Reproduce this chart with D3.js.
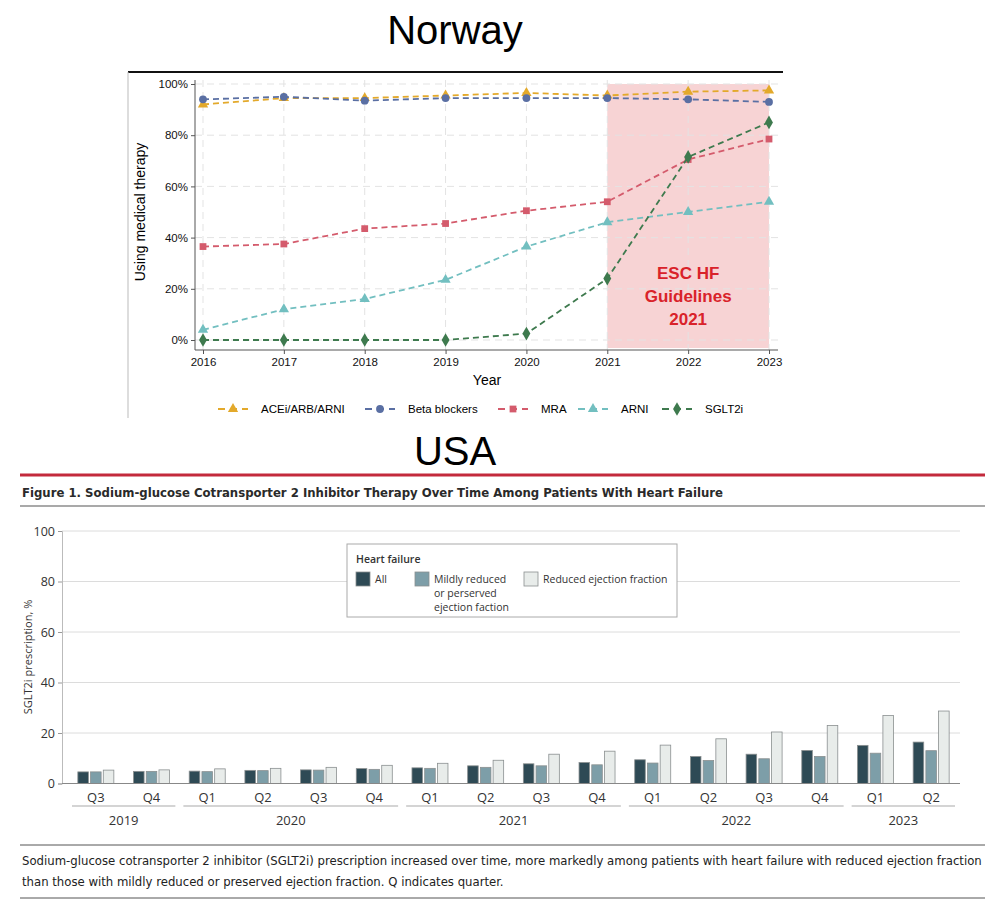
<!DOCTYPE html>
<html>
<head>
<meta charset="utf-8">
<script src="https://cdn.jsdelivr.net/npm/d3@7"></script>
<style>
  body { margin: 0; background: #fff; }
  svg { display: block; }
</style>
</head>
<body>
<svg id="chart" width="1000" height="903"></svg>
<script>
// ---- Norway data ----
const years = [2016, 2017, 2018, 2019, 2020, 2021, 2022, 2023]
const acei = [92, 94.5, 94.5, 95.5, 96.5, 95.5, 97, 97.5]
const betaBlockers = [94, 95, 93.5, 94.5, 94.5, 94.5, 94, 93]
const mra = [36.5, 37.5, 43.5, 45.5, 50.5, 54, 70.5, 78.5]
const arni = [4, 12, 16, 23.5, 36.5, 46, 50, 54]
const sglt2i = [0, 0, 0, 0, 2.5, 24, 71.5, 85]
const pctTicks = [0, 20, 40, 60, 80, 100]

// ---- USA data ----
const quarters = ["Q3","Q4","Q1","Q2","Q3","Q4","Q1","Q2","Q3","Q4","Q1","Q2","Q3","Q4","Q1","Q2"]
const quarterYears = [2019,2019,2020,2020,2020,2020,2021,2021,2021,2021,2022,2022,2022,2022,2023,2023]
const hfAll = [4.6, 4.8, 4.9, 5.2, 5.4, 5.9, 6.2, 7.0, 7.8, 8.3, 9.4, 10.7, 11.6, 13.1, 15.1, 16.4]
const hfMild = [4.6, 4.8, 4.7, 5.1, 5.3, 5.6, 6.0, 6.4, 7.0, 7.4, 8.1, 9.1, 9.8, 10.7, 12.0, 13.0]
const hfReduced = [5.3, 5.4, 5.8, 6.0, 6.4, 7.2, 8.0, 9.2, 11.6, 12.8, 15.2, 17.7, 20.4, 23.0, 26.9, 28.7]
const barTicks = [0, 20, 40, 60, 80, 100]

const svg = d3.select("#chart")
const helv = "'Liberation Sans', Arial, sans-serif"
const narrow = "'Liberation Sans Narrow', 'DejaVu Sans Condensed', 'Liberation Sans', sans-serif"

// ================= Norway =================
svg.append("text").attr("x", 455).attr("y", 44).attr("text-anchor", "middle")
    .style("font-family", helv).style("font-size", "40px").text("Norway")

// image frame bits
svg.append("line").attr("x1", 128).attr("x2", 783).attr("y1", 72).attr("y2", 72)
    .attr("stroke", "#111").attr("stroke-width", 2)
svg.append("line").attr("x1", 128).attr("x2", 128).attr("y1", 72).attr("y2", 418)
    .attr("stroke", "#bbb").attr("stroke-width", 1)

const x1 = d3.scalePoint().domain(years).range([203, 769])
const y1 = d3.scaleLinear().domain([0, 100]).range([340, 84])

const topG = svg.append("g")

// guideline shading
topG.append("rect")
    .attr("x", x1(2021)).attr("y", y1(100))
    .attr("width", x1(2023) - x1(2021)).attr("height", 348 - y1(100))
    .attr("fill", "#f7d3d4")

// grid
topG.selectAll(".hg").data(pctTicks).enter().append("line")
    .attr("x1", 195).attr("x2", 778)
    .attr("y1", d => y1(d)).attr("y2", d => y1(d))
    .attr("stroke", "#e3e3e3").attr("stroke-dasharray", "7,5")
topG.selectAll(".vg").data(years).enter().append("line")
    .attr("x1", d => x1(d)).attr("x2", d => x1(d))
    .attr("y1", 80).attr("y2", 350)
    .attr("stroke", "#e3e3e3").attr("stroke-dasharray", "7,5")

// annotation
const ann = topG.append("text").attr("text-anchor", "middle")
    .style("font-family", helv).style("font-size", "17px").style("font-weight", "bold")
    .attr("fill", "#d9222a")
;["ESC HF", "Guidelines", "2021"].forEach((t, i) => {
    ann.append("tspan").attr("x", (x1(2021) + x1(2023)) / 2).attr("y", 279 + i * 23).text(t)
})

// axes
const xAxis1 = topG.append("g").attr("transform", "translate(0,350)")
    .call(d3.axisBottom(x1).tickSize(4).tickPadding(4))
xAxis1.select(".domain").attr("d", "M195,0H778")
const yAxis1 = topG.append("g").attr("transform", "translate(195,0)")
    .call(d3.axisLeft(y1).tickValues(pctTicks).tickFormat(d => d + "%").tickSize(4).tickPadding(3))
yAxis1.select(".domain").attr("d", "M0,80V350")
topG.selectAll(".tick text").style("font-family", helv).style("font-size", "11.5px").attr("fill", "#111")
topG.selectAll(".domain, .tick line").attr("stroke", "#555")

topG.append("text").attr("x", 487).attr("y", 385).attr("text-anchor", "middle")
    .style("font-family", helv).style("font-size", "14px").text("Year")
topG.append("text").attr("transform", "translate(145,212) rotate(-90)").attr("text-anchor", "middle")
    .style("font-family", helv).style("font-size", "14px").text("Using medical therapy")

const seriesDefs = [
    {name: "ACEi/ARB/ARNI", values: acei, color: "#e3a92b", sym: d3.symbolTriangle, size: 46, lx: 218},
    {name: "Beta blockers", values: betaBlockers, color: "#5a6fa3", sym: d3.symbolCircle, size: 48, lx: 365},
    {name: "MRA", values: mra, color: "#d45b6c", sym: d3.symbolSquare, size: 46, lx: 498},
    {name: "ARNI", values: arni, color: "#72bfc0", sym: d3.symbolTriangle, size: 46, lx: 578},
    {name: "SGLT2i", values: sglt2i, color: "#3e7a4e", sym: d3.symbolDiamond, size: 54, lx: 662}
]

const line1 = d3.line().x((d, i) => x1(years[i])).y(d => y1(d))
seriesDefs.forEach(s => {
    topG.append("path").datum(s.values).attr("d", line1)
        .attr("fill", "none").attr("stroke", s.color).attr("stroke-width", 1.8)
        .attr("stroke-dasharray", "6,4")
    topG.selectAll(null).data(s.values).enter().append("path")
        .attr("d", d3.symbol().type(s.sym).size(s.size))
        .attr("transform", (d, i) => `translate(${x1(years[i])},${y1(d)})`)
        .attr("fill", s.color)
})

// legend
const leg1 = topG.append("g").attr("transform", "translate(0,409)")
seriesDefs.forEach(s => {
    const g = leg1.append("g").attr("transform", `translate(${s.lx},0)`)
    g.append("line").attr("x1", 0).attr("x2", 30).attr("y1", 0).attr("y2", 0)
        .attr("stroke", s.color).attr("stroke-width", 1.8).attr("stroke-dasharray", "7,5")
    g.append("path").attr("d", d3.symbol().type(s.sym).size(s.size))
        .attr("transform", "translate(15,0)").attr("fill", s.color)
    g.append("text").attr("x", 43).attr("y", 4)
        .style("font-family", helv).style("font-size", "11.5px").text(s.name)
})

// ================= USA =================
svg.append("text").attr("x", 455).attr("y", 465).attr("text-anchor", "middle")
    .style("font-family", helv).style("font-size", "40px").text("USA")

svg.append("line").attr("x1", 20).attr("x2", 985).attr("y1", 475).attr("y2", 475)
    .attr("stroke", "#c32a3c").attr("stroke-width", 3)
svg.append("text").attr("x", 22).attr("y", 497)
    .style("font-family", narrow).style("font-size", "13px").style("font-weight", "bold")
    .attr("fill", "#2a2a2a")
    .text("Figure 1. Sodium-glucose Cotransporter 2 Inhibitor Therapy Over Time Among Patients With Heart Failure")
svg.append("line").attr("x1", 20).attr("x2", 985).attr("y1", 506).attr("y2", 506)
    .attr("stroke", "#555").attr("stroke-width", 1.2)

const idx = d3.range(quarters.length)
const x2 = d3.scaleBand().domain(idx).range([68, 959]).paddingInner(0).paddingOuter(0)
const y2 = d3.scaleLinear().domain([0, 100]).range([783.5, 531])
const xSub = d3.scaleBand().domain(["all", "mild", "red"]).range([0, 36]).paddingInner(0.17)

const bot = svg.append("g")
bot.selectAll(".bg").data(barTicks.filter(d => d > 0)).enter().append("line")
    .attr("x1", 62).attr("x2", 960).attr("y1", d => y2(d)).attr("y2", d => y2(d))
    .attr("stroke", "#dcdcdc").attr("stroke-width", 1)

const yAxis2 = bot.append("g").attr("transform", "translate(62,0)")
    .call(d3.axisLeft(y2).tickValues(barTicks).tickSize(4).tickPadding(3))
yAxis2.select(".domain").attr("stroke", "#bbb")
yAxis2.selectAll(".tick line").attr("stroke", "#999")
yAxis2.selectAll(".tick text").style("font-family", "'Open Sans', sans-serif").style("font-size", "12.5px").attr("fill", "#333")

bot.append("text").attr("transform", "translate(32,657) rotate(-90)").attr("text-anchor", "middle")
    .style("font-family", "'Open Sans', sans-serif").style("font-size", "11px").attr("fill", "#333")
    .text("SGLT2i prescription, %")

const barColors = {all: "#2e4a55", mild: "#7d9ea8", red: "#e8ecea"}
const barData = idx.map(i => ({i, vals: [
    {k: "all", v: hfAll[i]}, {k: "mild", v: hfMild[i]}, {k: "red", v: hfReduced[i]}]}))
const groups = bot.selectAll(".grp").data(barData).enter().append("g")
    .attr("transform", d => `translate(${x2(d.i) + x2.bandwidth() / 2 - 18},0)`)
groups.selectAll("rect").data(d => d.vals).enter().append("rect")
    .attr("x", d => xSub(d.k)).attr("width", xSub.bandwidth())
    .attr("y", d => y2(d.v)).attr("height", d => y2(0) - y2(d.v))
    .attr("fill", d => barColors[d.k]).attr("stroke", "#8a8f90").attr("stroke-width", 0.8)

bot.append("line").attr("x1", 62).attr("x2", 960).attr("y1", y2(0)).attr("y2", y2(0))
    .attr("stroke", "#888").attr("stroke-width", 1.2)

// quarter labels
bot.selectAll(".ql").data(idx).enter().append("text")
    .attr("x", d => x2(d) + x2.bandwidth() / 2).attr("y", 802).attr("text-anchor", "middle")
    .style("font-family", "'Open Sans', sans-serif").style("font-size", "13px").attr("fill", "#333")
    .text(d => quarters[d])

// year groups
const yearGroups = d3.groups(idx, d => quarterYears[d])
yearGroups.forEach(([yr, ids]) => {
    const xa = x2(ids[0]) + 4, xb = x2(ids[ids.length - 1]) + x2.bandwidth() - 4
    bot.append("line").attr("x1", xa).attr("x2", xb).attr("y1", 806).attr("y2", 806)
        .attr("stroke", "#aaa").attr("stroke-width", 1.2)
    bot.append("text").attr("x", (xa + xb) / 2).attr("y", 825).attr("text-anchor", "middle")
        .style("font-family", "'Open Sans', sans-serif").style("font-size", "13px").attr("fill", "#333")
        .text(yr)
})

// legend box
const lg = bot.append("g").attr("transform", "translate(347,544)")
lg.append("rect").attr("width", 330).attr("height", 73).attr("fill", "#fff").attr("stroke", "#aaa")
const lfont = "'Open Sans', sans-serif"
lg.append("text").attr("x", 9).attr("y", 19).style("font-family", lfont).style("font-size", "10.5px")
    .style("font-weight", "600").attr("fill", "#333").text("Heart failure")
const legItems = [
    {k: "all", x: 9, lines: ["All"]},
    {k: "mild", x: 68, lines: ["Mildly reduced", "or perserved", "ejection faction"]},
    {k: "red", x: 177, lines: ["Reduced ejection fraction"]}
]
legItems.forEach(it => {
    lg.append("rect").attr("x", it.x).attr("y", 28).attr("width", 14).attr("height", 14)
        .attr("fill", barColors[it.k]).attr("stroke", "#8a8f90").attr("stroke-width", 0.8)
    const t = lg.append("text").style("font-family", lfont).style("font-size", "10.5px").attr("fill", "#333")
    it.lines.forEach((l, j) => t.append("tspan").attr("x", it.x + 19).attr("y", 39 + j * 14).text(l))
})

// caption
svg.append("line").attr("x1", 20).attr("x2", 985).attr("y1", 845).attr("y2", 845)
    .attr("stroke", "#555").attr("stroke-width", 1)
const cap = svg.append("text").style("font-family", narrow).style("font-size", "13px").attr("fill", "#222")
cap.append("tspan").attr("x", 22).attr("y", 865)
    .text("Sodium-glucose cotransporter 2 inhibitor (SGLT2i) prescription increased over time, more markedly among patients with heart failure with reduced ejection fraction")
cap.append("tspan").attr("x", 22).attr("y", 886)
    .text("than those with mildly reduced or preserved ejection fraction. Q indicates quarter.")
svg.append("line").attr("x1", 20).attr("x2", 985).attr("y1", 898).attr("y2", 898)
    .attr("stroke", "#555").attr("stroke-width", 1)
</script>
</body>
</html>
